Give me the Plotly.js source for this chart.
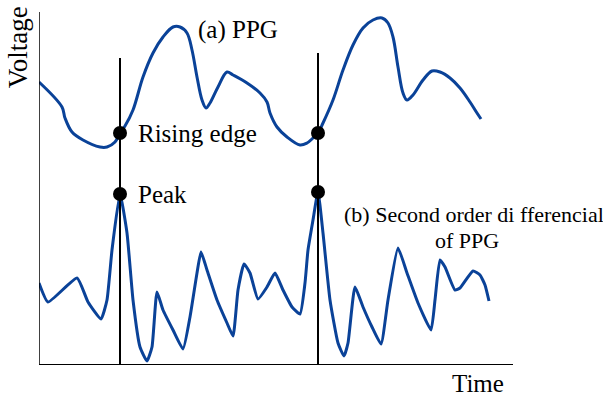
<!DOCTYPE html>
<html>
<head>
<meta charset="utf-8">
<script src="https://cdn.plot.ly/plotly-3.0.1.min.js"></script>
</head>
<body style="margin:0;background:#fff">
<div id="chart"></div>
<script>
// (a) PPG waveform: time vs voltage
const ppgTime = [0,23,26,33,44,61,68,76,81,86,94,104,114,124,134,141,148,153,158,163,167,171,179,188,194,208,221,228,231,238,248,261,268,274,279,284,294,304,314,324,334,343,349,354,359,364,368,374,384,393,401,411,421,431,438,442];
const ppgVolt = [283,258,247,233,225,218,218,223,232,239,255,288,312,328,338,338,332,315,288,265,257,262,278,293,290,282,272,263,252,238,228,220,222,227,232,242,265,295,320,337,345,347,342,328,298,272,265,270,285,294,293,287,277,263,252,246];

// (b) Second order differential of PPG
const sdTime = [0,9,38,49,62,68,73,81,88,94,101,108,113,118,124,134,144,151,158,162,168,178,188,194,199,205,211,219,228,236,244,253,261,266,269,274,279,284,291,299,305,309,316,324,333,342,349,359,368,379,392,396,401,406,416,421,434,441,446,450];
const sdVolt = [82,63,87,63,46,65,115,171,132,65,18,4,18,73,55,35,16,48,92,113,95,65,42,29,75,101,92,66,78,92,75,58,51,82,115,145,173,132,65,22,9,22,78,58,38,21,65,117,92,62,35,65,105,98,75,77,94,90,80,64];

// Marked events
const markTime = [81, 279];
const risingVolt = [232, 232];
const peakVolt = [171, 173];
const markTop = [307, 312];

const labels = {
  ppg: "(a) PPG",
  rising: "Rising edge",
  peak: "Peak",
  sd1: "(b) Second order di fferencial",
  sd2: "of PPG",
  x: "Time",
  y: "Voltage"
};

const blue = "#0a4298";
const fam = "Liberation Serif";

const traces = [
  {x: ppgTime, y: ppgVolt, mode: "lines", line: {color: blue, width: 3, shape: "spline", smoothing: 1}, hoverinfo: "skip"},
  {x: sdTime, y: sdVolt, mode: "lines", line: {color: blue, width: 3, shape: "spline", smoothing: 0.45}, hoverinfo: "skip"},
  {x: markTime.concat(markTime), y: risingVolt.concat(peakVolt), mode: "markers",
   marker: {color: "#000", size: 14}, hoverinfo: "skip", cliponaxis: false}
];

const shapes = [
  {type: "line", xref: "x", yref: "y", x0: 0, x1: 0, y0: 0, y1: 353, line: {color: "#000", width: 1.5}},
  {type: "line", xref: "x", yref: "y", x0: 0, x1: 474, y0: 0, y1: 0, line: {color: "#000", width: 2}}
];
markTime.forEach((t, i) => {
  shapes.push({type: "line", xref: "x", yref: "y", x0: t, x1: t, y0: -2, y1: markTop[i], line: {color: "#000", width: 2}});
});

function ann(text, xref, yref, x, y, xanchor, size, angle) {
  return {text: text, xref: xref, yref: yref, x: x, y: y, xanchor: xanchor, yanchor: "middle",
          showarrow: false, textangle: angle || 0, font: {family: fam, size: size, color: "#000"}};
}

const annotations = [
  ann(labels.ppg, "x", "y", 157, 335, "left", 25),
  ann(labels.rising, "x", "y", 97, 232, "left", 25),
  ann(labels.peak, "x", "y", 97, 171, "left", 25),
  ann(labels.sd1, "x", "y", 303, 151, "left", 22),
  ann(labels.sd2, "x", "y", 428, 125, "center", 22),
  ann(labels.x, "paper", "paper", 0.926, -0.052, "center", 25),
  ann(labels.y, "paper", "paper", -0.044, 0.871, "center", 27, -90)
];

const layout = {
  width: 603, height: 398,
  margin: {l: 39, r: 90, t: 0, b: 33, pad: 0},
  paper_bgcolor: "#fff", plot_bgcolor: "#fff",
  showlegend: false,
  xaxis: {range: [0, 474], showgrid: false, zeroline: false, showticklabels: false, showline: false, ticks: ""},
  yaxis: {range: [0, 365], showgrid: false, zeroline: false, showticklabels: false, showline: false, ticks: ""},
  shapes: shapes,
  annotations: annotations
};

Plotly.newPlot("chart", traces, layout, {displayModeBar: false});
</script>
</body>
</html>
